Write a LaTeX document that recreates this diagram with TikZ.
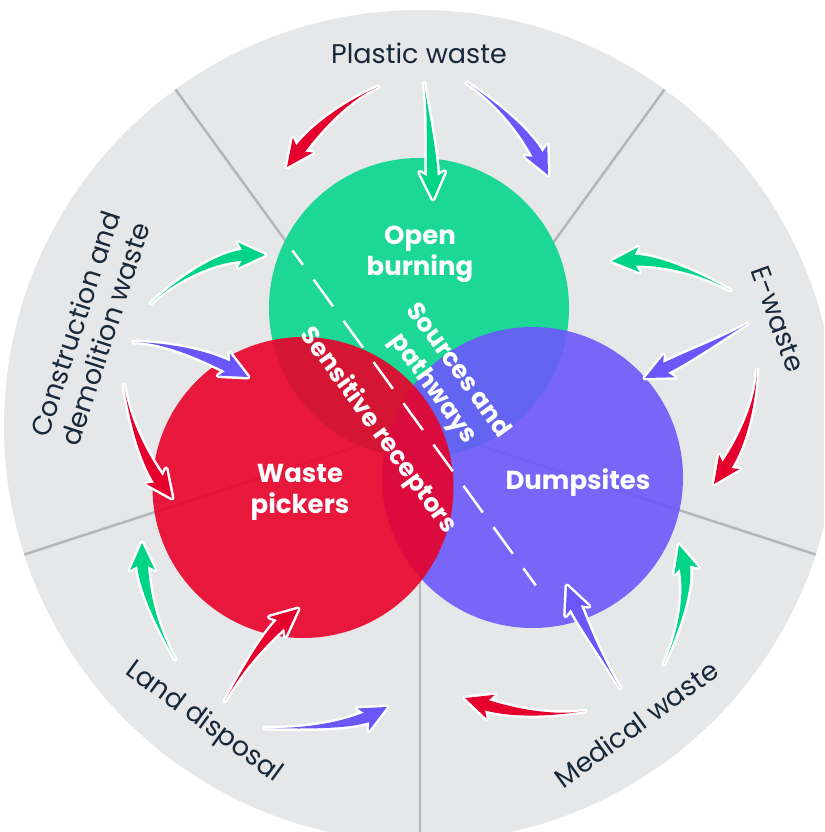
\documentclass[tikz,border=0pt]{standalone}
\usepackage{fontspec}
\setmainfont{Poppins}
\usetikzlibrary{calc}
\definecolor{bgray}{HTML}{E6E7E9}
\definecolor{divgray}{HTML}{B3B7BC}
\definecolor{cgreen}{HTML}{1CD796}
\definecolor{cpurple}{HTML}{6B58FA}
\definecolor{cred}{HTML}{E8022A}
\definecolor{agreen}{HTML}{00D487}
\definecolor{ared}{HTML}{E5002D}
\definecolor{apurple}{HTML}{6B57F9}
\definecolor{ink}{HTML}{17283A}
\tikzset{
  outerlabel/.style={text=ink, font=\fontsize{27}{32}\selectfont, align=center, inner sep=0pt},
  innerlabel/.style={text=white, font=\bfseries\fontsize{26}{31}\selectfont, align=center, inner sep=0pt},
  slantlabel/.style={text=white, font=\bfseries\fontsize{25}{31}\selectfont, align=center, inner sep=0pt, rotate=-54},
  divider/.style={draw=divgray, line width=2.5pt},
  arrowline/.style={draw=white, line width=5pt, line join=round, line cap=round},
}
\newcommand\swoosh[4]{%
  \coordinate (sT) at (#2);
  \coordinate (sC) at (#3);
  \coordinate (sH) at (#4);
  \coordinate (sB) at ($(sH)!17pt!(sC)$);
  \coordinate (sW) at ($(sH)!27pt!(sC)$);
  \coordinate (sN) at ($(sH)!20pt!(sC)$);
  \coordinate (sBL) at ($(sB)!5.5pt!90:(sH)$);
  \coordinate (sBR) at ($(sB)!5.5pt!-90:(sH)$);
  \coordinate (sWL) at ($(sW)!12.5pt!90:(sH)$);
  \coordinate (sWR) at ($(sW)!12.5pt!-90:(sH)$);
  \coordinate (sK1) at ($(sT)!0.6!(sC)$);
  \coordinate (sK2) at ($(sB)!0.6!(sC)$);
  \coordinate (sK2L) at ($(sK2)+(sBL)-(sB)$);
  \coordinate (sK2R) at ($(sK2)+(sBR)-(sB)$);
  \path[arrowline] (sT) .. controls (sK1) and (sK2L) .. (sBL) -- (sBR) .. controls (sK2R) and (sK1) .. (sT) -- cycle;
  \path[arrowline] (sH) -- (sWL) -- (sN) -- (sWR) -- cycle;
  \fill[#1] (sT) .. controls (sK1) and (sK2L) .. (sBL) -- (sBR) .. controls (sK2R) and (sK1) .. (sT) -- cycle;
  \fill[#1] (sH) -- (sWL) -- (sN) -- (sWR) -- cycle;
}
\begin{document}
\begin{tikzpicture}[x=1pt,y=-1pt]
\path[use as bounding box] (0,0) rectangle (824,832);
\fill[white] (0,0) rectangle (824,832);
\begin{scope}
\clip (0,0) rectangle (824,832);
\coordinate (ctr) at (420,426);
\fill[bgray] (ctr) circle[radius=416pt];
% dividers
\coordinate (d1) at (664.5,89.5);
\coordinate (d2) at (175.5,89.5);
\coordinate (d3) at (24.3,554.5);
\coordinate (d4) at (420,842);
\coordinate (d5) at (815.7,554.5);
\foreach \d in {d1,d2,d3,d4,d5} \draw[divider] (ctr) -- (\d);
% circles
\fill[cgreen] (419,308) circle[radius=150pt];
\fill[cpurple, opacity=0.9] (532.5,477.5) circle[radius=150.5pt];
\fill[cred, opacity=0.9] (303,487.5) circle[radius=150.5pt];
% dashed divider
\coordinate (ds) at (292.4,250.4);
\coordinate (de) at (535.8,585.4);
\draw[white, line width=2.5pt, dash pattern=on 33pt off 18pt, dash phase=15pt] (ds) -- (de);
% inner labels
\node[innerlabel] (ob) at (420,254) {Open\\burning};
\node[innerlabel] (wp) at (300,492) {Waste\\pickers};
\node[innerlabel] (du) at (578,483) {Dumpsites};
\node[slantlabel] (sp) at (444.8,380.2) {Sources and\\pathways};
\node[slantlabel] (sr) at (378,431) {Sensitive receptors};
% outer labels
\node[outerlabel] (pw) at (419,53) {Plastic waste};
\node[outerlabel, rotate=-70] (ew) at (778,319) {E-waste};
\node[outerlabel, rotate=36] (mw) at (636,724) {Medical waste};
\node[outerlabel, rotate=-36] (ld) at (203.5,722.5) {Land disposal};
\node[outerlabel, rotate=72] (cd) at (90,329) {Construction and\\demolition waste};
% arrows: plastic
\swoosh{ared}{378,87}{330,108}{287,167}
\swoosh{agreen}{424,83}{431,130}{433,199}
\swoosh{apurple}{467,83}{520,118}{548,175}
% e-waste
\swoosh{agreen}{730,290}{672,258}{612,261}
\swoosh{apurple}{747,324}{712,345}{645,378}
\swoosh{ared}{757,370}{755,425}{714,484}
% medical
\swoosh{agreen}{664,664}{694,598}{679,545}
\swoosh{apurple}{620,688}{585,630}{567,586}
\swoosh{ared}{585,711}{530,720}{465,698}
% land
\swoosh{agreen}{175,659}{143,603}{142,543}
\swoosh{ared}{225,701}{256,645}{298,609}
\swoosh{apurple}{265,728}{343,730}{387,707}
% construction
\swoosh{agreen}{151,303}{205,255}{265,255}
\swoosh{apurple}{134,342}{183,343}{248,377}
\swoosh{ared}{124,385}{133,445}{172,498}
\end{scope}
\end{tikzpicture}
\end{document}
